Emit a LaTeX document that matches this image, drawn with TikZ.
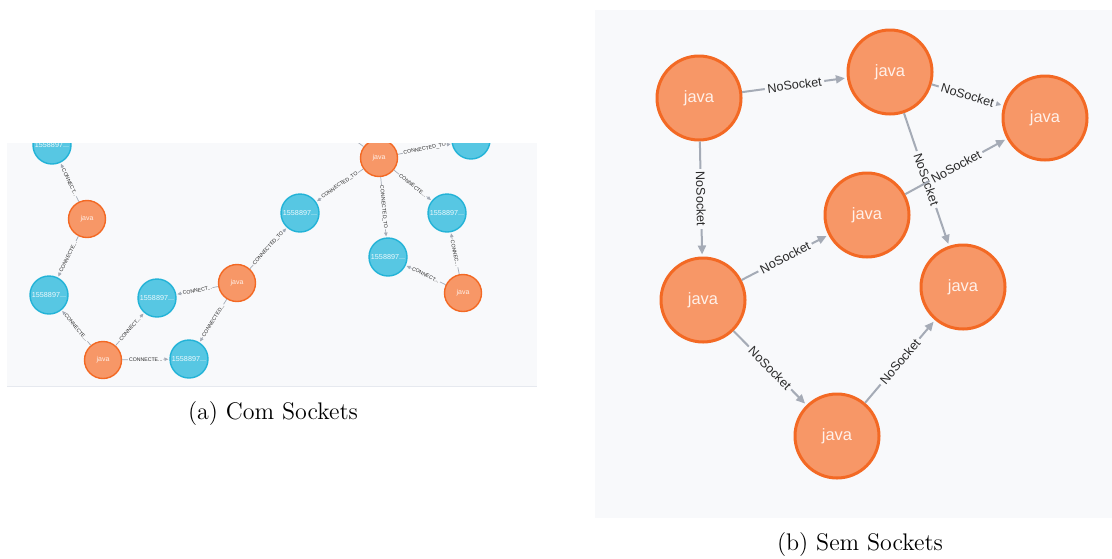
\documentclass[tikz,border=0pt]{standalone}
\usepackage{fontspec}
\newfontfamily\graphfont{Liberation Sans}
\usetikzlibrary{arrows.meta}
\definecolor{canvas}{HTML}{F8F9FB}
\definecolor{rim}{HTML}{E6E9EF}
\definecolor{jfill}{HTML}{F79767}
\definecolor{jstroke}{HTML}{F36924}
\definecolor{jtext}{HTML}{FFF1EA}
\definecolor{ifill}{HTML}{57C7E3}
\definecolor{istroke}{HTML}{23B3D7}
\definecolor{itext}{HTML}{EEF9FC}
\definecolor{edgec}{HTML}{A5ABB6}
\definecolor{labc}{HTML}{2A2A2A}
\tikzset{
  sjava/.style={circle, draw=jstroke, fill=jfill, line width=0.7pt, minimum size=18.5pt,
    inner sep=0pt, text=jtext, font=\graphfont\fontsize{3.5}{4}\selectfont},
  sip/.style={circle, draw=istroke, fill=ifill, line width=0.7pt, minimum size=19pt,
    inner sep=0pt, text=itext, font=\graphfont\fontsize{3.6}{4}\selectfont},
  sedge/.style={draw=edgec, line width=0.35pt, -{Triangle[length=1.9pt,width=1.7pt]}, shorten >=0.5pt},
  slabel/.style={sloped, fill=canvas, inner sep=0.4pt, text=labc, font=\graphfont\fontsize{2.6}{3}\selectfont},
  bjava/.style={circle, draw=jstroke, fill=jfill, line width=1.5pt, minimum size=42pt,
    inner sep=0pt, text=jtext, font=\graphfont\fontsize{8.2}{10}\selectfont},
  bedge/.style={draw=edgec, line width=1pt, -{Triangle[length=4.5pt,width=4pt]}, shorten >=1pt},
  blabel/.style={sloped, fill=canvas, inner sep=1.3pt, text=labc, font=\graphfont\fontsize{6.3}{7}\selectfont},
  caption/.style={font=\fontsize{12}{14}\selectfont, text=black}
}
\begin{document}
\begin{tikzpicture}[x=0.5pt, y=-0.5pt]
\useasboundingbox (0,0) rectangle (1112,558);

% ---- (a) graph with socket nodes ----
\fill[canvas] (7,143) rectangle (537,386);
\draw[rim, line width=0.5pt] (7,386) -- (537,386);
\begin{scope}
\clip (7,143) rectangle (537,386);
\node[sip]   (b1) at (52,145)  {1558897...};
\node[sjava] (a1) at (87,219)  {java};
\node[sip]   (b2) at (49,295)  {1558897...};
\node[sip]   (b3) at (157,298) {1558897...};
\node[sjava] (a2) at (237,283) {java};
\node[sjava] (a3) at (103,360) {java};
\node[sip]   (b4) at (189,359) {1558897...};
\node[sjava] (a4) at (379,158) {java};
\node[sip]   (b5) at (471,140) {1558897...};
\node[sip]   (b6) at (300,213) {1558897...};
\node[sip]   (b7) at (447,213) {1558897...};
\node[sip]   (b8) at (388,257) {1558897...};
\node[sjava] (a5) at (463,293) {java};
\coordinate (off) at (325,118);

\path[sedge] (a1) -- node[slabel] {CONNECT...} (b1);
\path[sedge] (a1) -- node[slabel] {CONNECTE...} (b2);
\path[sedge] (a3) -- node[slabel] {CONNECTE...} (b2);
\path[sedge] (a3) -- node[slabel] {CONNECT...} (b3);
\path[sedge] (a3) -- node[slabel] {CONNECTE...} (b4);
\path[sedge] (a2) -- node[slabel] {CONNECT...} (b3);
\path[sedge] (a2) -- node[slabel] {CONNECTED...} (b4);
\path[sedge] (a2) -- node[slabel] {CONNECTED\_TO} (b6);
\path[sedge] (a4) -- node[slabel] {CONNECTED\_TO} (b6);
\path[sedge] (a4) -- node[slabel] {CONNECTED\_TO} (b8);
\path[sedge] (a4) -- node[slabel] {CONNECTE...} (b7);
\path[sedge] (a4) -- node[slabel] {CONNECTED\_TO} (b5);
\path[sedge] (a5) -- node[slabel] {CONNECT...} (b8);
\path[sedge] (a5) -- node[slabel] {CONNEC...} (b7);
\draw[edgec, line width=0.35pt] (a4) -- (off);
\end{scope}
\node[caption] (capa) at (273,414) {(a) Com Sockets};

% ---- (b) graph without socket nodes ----
\fill[canvas] (595,10) rectangle (1112,518);
\node[bjava] (j1) at (699,98)  {java};
\node[bjava] (j2) at (890,72)  {java};
\node[bjava] (j3) at (1045,118) {java};
\node[bjava] (j4) at (867,215) {java};
\node[bjava] (j5) at (703,300) {java};
\node[bjava] (j6) at (963,287) {java};
\node[bjava] (j7) at (837,436) {java};

\path[bedge] (j1) -- node[blabel] {NoSocket} (j2);
\path[bedge] (j2) -- node[blabel] {NoSocket} (j3);
\path[bedge] (j2) -- node[blabel] {NoSocket} (j6);
\path[bedge] (j4) -- node[blabel] {NoSocket} (j3);
\path[bedge] (j1) -- node[blabel] {NoSocket} (j5);
\path[bedge] (j5) -- node[blabel] {NoSocket} (j4);
\path[bedge] (j5) -- node[blabel] {NoSocket} (j7);
\path[bedge] (j7) -- node[blabel] {NoSocket} (j6);
\node[caption] (capb) at (860,544) {(b) Sem Sockets};
\end{tikzpicture}
\end{document}
